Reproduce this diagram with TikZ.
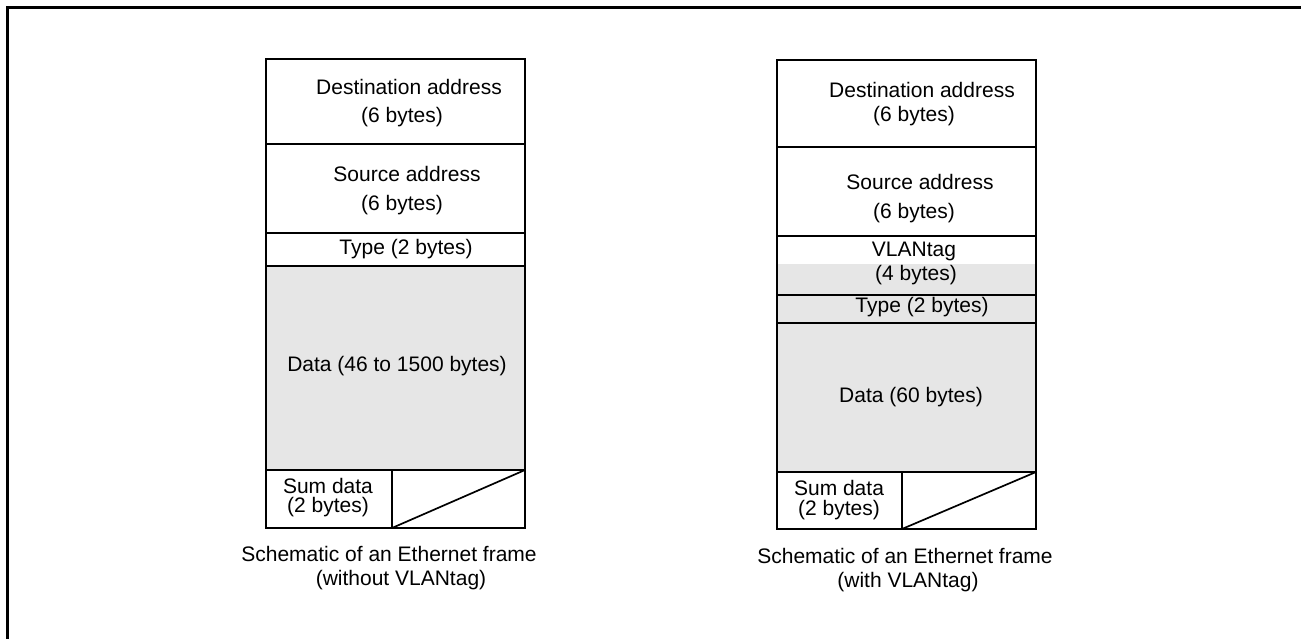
\documentclass[tikz,border=0pt]{standalone}
\usepackage{fontspec}
\setmainfont{Liberation Sans}
\definecolor{cellgray}{HTML}{E6E6E6}
\tikzset{
  lbl/.style={inner sep=0pt, anchor=base, font=\fontsize{21}{25}\selectfont},
  cellline/.style={draw=black, line width=1.7pt},
  framebox/.style={draw=black, line width=2.2pt}
}
\begin{document}
\begin{tikzpicture}[x=1pt,y=-1pt]
\useasboundingbox (0,0) rectangle (1301,639);
% outer frame (right and bottom edges fall outside the page)
\draw[framebox] (1310,7.5) -- (7.5,7.5) -- (7.5,650);

% ---------- left frame ----------
\fill[cellgray] (266,266) rectangle (525,470);
\draw[cellline] (266,59) rectangle (525,528);
\draw[cellline] (266,144) -- (525,144);
\draw[cellline] (266,233) -- (525,233);
\draw[cellline] (266,266) -- (525,266);
\draw[cellline] (266,470) -- (525,470);
\draw[cellline] (392,470) -- (392,528);
\draw[cellline] (392,528) -- (525,470);

\node[lbl] (ld1) at (409,95) {Destination address};
\node[lbl] (ld2) at (402,122.5) {(6 bytes)};
\node[lbl] (ls1) at (407,181.5) {Source address};
\node[lbl] (ls2) at (402,210.5) {(6 bytes)};
\node[lbl] (lt) at (406,254.5) {Type (2 bytes)};
\node[lbl] (ldata) at (397,371.5) {Data (46 to 1500 bytes)};
\node[lbl] (lsum1) at (328,493) {Sum data};
\node[lbl] (lsum2) at (328,512.5) {(2 bytes)};
\node[lbl] (lcap1) at (389,561.5) {Schematic of an Ethernet frame};
\node[lbl] (lcap2) at (401,585.5) {(without VLANtag)};

% ---------- right frame ----------
\fill[cellgray] (777,264) rectangle (1036,472);
\draw[cellline] (777,60) rectangle (1036,529);
\draw[cellline] (777,147) -- (1036,147);
\draw[cellline] (777,236) -- (1036,236);
\draw[cellline] (777,295) -- (1036,295);
\draw[cellline] (777,323) -- (1036,323);
\draw[cellline] (777,472) -- (1036,472);
\draw[cellline] (902,472) -- (902,529);
\draw[cellline] (902,529) -- (1036,472);

\node[lbl] (rd1) at (922,98) {Destination address};
\node[lbl] (rd2) at (914,121.5) {(6 bytes)};
\node[lbl] (rs1) at (920,190) {Source address};
\node[lbl] (rs2) at (914,218.5) {(6 bytes)};
\node[lbl] (rv1) at (914,256) {VLANtag};
\node[lbl] (rv2) at (916,280.5) {(4 bytes)};
\node[lbl] (rt) at (922,312.5) {Type (2 bytes)};
\node[lbl] (rdata) at (911,402.5) {Data (60 bytes)};
\node[lbl] (rsum1) at (839,495) {Sum data};
\node[lbl] (rsum2) at (839,515) {(2 bytes)};
\node[lbl] (rcap1) at (905,563) {Schematic of an Ethernet frame};
\node[lbl] (rcap2) at (908,587.5) {(with VLANtag)};
\end{tikzpicture}
\end{document}
